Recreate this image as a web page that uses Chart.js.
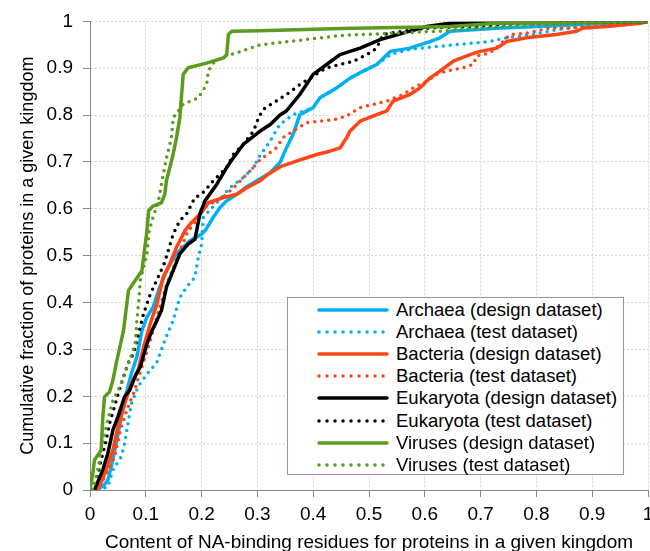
<!DOCTYPE html>
<html>
<head>
<meta charset="utf-8">
<script src="https://cdn.jsdelivr.net/npm/chart.js@4.4.1/dist/chart.umd.min.js"></script>
<style>
  html, body { margin: 0; padding: 0; background: #fff; }
  #wrap { position: relative; width: 650px; height: 551px; }
  #legend {
    position: absolute; left: 287px; top: 297px; width: 337px; height: 178px;
    box-sizing: border-box; border: 1px solid #9c8bc2; background: #fff;
    font-family: 'Liberation Sans', Arial, sans-serif; font-size: 18.5px; color: #000;
  }
  .row { position: absolute; left: 0; height: 22px; display: flex; align-items: center; }
  .row svg { margin-left: 28px; }
  .row span { margin-left: 6px; white-space: nowrap; }
</style>
</head>
<body>
<div id="wrap">
  <canvas id="myChart" width="650" height="551"></canvas>
  <div id="legend"></div>
</div>
<script>
const labels = [
  'Archaea (design dataset)',
  'Archaea (test dataset)',
  'Bacteria (design dataset)',
  'Bacteria (test dataset)',
  'Eukaryota (design dataset)',
  'Eukaryota (test dataset)',
  'Viruses (design dataset)',
  'Viruses (test dataset)',
];
const xTicks = [0, 0.1, 0.2, 0.3, 0.4, 0.5, 0.6, 0.7, 0.8, 0.9, 1];
const yTicks = [0, 0.1, 0.2, 0.3, 0.4, 0.5, 0.6, 0.7, 0.8, 0.9, 1];

// [content, cumulative fraction]
const archaeaDesign = [[0.012,0],[0.025,0.01],[0.032,0.021],[0.038,0.05],[0.047,0.099],[0.056,0.156],[0.065,0.206],[0.074,0.248],[0.084,0.284],[0.093,0.34],[0.102,0.369],[0.113,0.39],[0.125,0.433],[0.140,0.475],[0.155,0.504],[0.179,0.532],[0.200,0.546],[0.206,0.553],[0.221,0.582],[0.233,0.603],[0.245,0.617],[0.263,0.631],[0.278,0.645],[0.305,0.664],[0.323,0.677],[0.341,0.70],[0.352,0.73],[0.364,0.759],[0.376,0.801],[0.400,0.816],[0.412,0.837],[0.442,0.858],[0.466,0.879],[0.490,0.894],[0.514,0.908],[0.538,0.936],[0.573,0.943],[0.609,0.957],[0.627,0.965],[0.645,0.979],[0.735,0.986],[0.806,0.989],[0.9,0.995],[1,1]];
const archaeaTest = [[0.015,0],[0.032,0.007],[0.041,0.043],[0.056,0.071],[0.062,0.099],[0.068,0.142],[0.074,0.184],[0.086,0.22],[0.098,0.241],[0.107,0.255],[0.119,0.27],[0.134,0.319],[0.149,0.362],[0.161,0.411],[0.173,0.433],[0.188,0.454],[0.194,0.496],[0.200,0.525],[0.203,0.582],[0.227,0.613],[0.251,0.645],[0.275,0.667],[0.293,0.688],[0.302,0.709],[0.323,0.745],[0.340,0.78],[0.364,0.801],[0.400,0.816],[0.412,0.837],[0.442,0.858],[0.466,0.879],[0.490,0.894],[0.514,0.908],[0.540,0.93],[0.573,0.94],[0.609,0.945],[0.627,0.947],[0.717,0.957],[0.747,0.965],[0.794,0.972],[0.836,0.982],[0.878,0.989],[0.95,0.996],[1,1]];
const bacteriaDesign = [[0.012,0],[0.017,0.007],[0.029,0.043],[0.041,0.085],[0.050,0.135],[0.062,0.184],[0.074,0.227],[0.086,0.255],[0.096,0.305],[0.108,0.355],[0.120,0.397],[0.131,0.454],[0.143,0.482],[0.155,0.518],[0.170,0.553],[0.179,0.567],[0.200,0.592],[0.212,0.613],[0.239,0.624],[0.263,0.631],[0.281,0.645],[0.305,0.66],[0.317,0.672],[0.341,0.69],[0.370,0.702],[0.406,0.716],[0.430,0.723],[0.448,0.73],[0.460,0.752],[0.466,0.766],[0.484,0.787],[0.514,0.801],[0.532,0.809],[0.543,0.83],[0.573,0.844],[0.591,0.858],[0.609,0.879],[0.627,0.894],[0.651,0.915],[0.681,0.929],[0.699,0.936],[0.729,0.943],[0.747,0.957],[0.782,0.965],[0.836,0.972],[0.872,0.979],[0.884,0.986],[0.926,0.989],[0.986,0.996],[1,1]];
const bacteriaTest = [[0.010,0],[0.020,0.014],[0.032,0.04],[0.044,0.071],[0.056,0.135],[0.068,0.177],[0.080,0.213],[0.089,0.248],[0.095,0.27],[0.108,0.319],[0.125,0.39],[0.140,0.447],[0.152,0.482],[0.161,0.511],[0.176,0.553],[0.191,0.574],[0.203,0.603],[0.227,0.617],[0.245,0.631],[0.263,0.652],[0.287,0.681],[0.305,0.705],[0.334,0.73],[0.346,0.752],[0.364,0.766],[0.388,0.784],[0.436,0.79],[0.460,0.798],[0.484,0.816],[0.508,0.823],[0.532,0.83],[0.561,0.844],[0.579,0.858],[0.603,0.872],[0.621,0.887],[0.639,0.894],[0.669,0.901],[0.687,0.908],[0.693,0.926],[0.717,0.933],[0.735,0.951],[0.753,0.972],[0.782,0.975],[0.824,0.986],[0.866,0.986],[0.926,0.991],[0.974,0.994],[1,1]];
const eukaryotaDesign = [[0.008,0],[0.023,0.043],[0.032,0.078],[0.041,0.128],[0.050,0.156],[0.062,0.199],[0.071,0.213],[0.083,0.248],[0.090,0.262],[0.102,0.312],[0.111,0.34],[0.120,0.362],[0.128,0.383],[0.137,0.433],[0.149,0.468],[0.161,0.504],[0.176,0.525],[0.188,0.535],[0.197,0.589],[0.206,0.617],[0.227,0.652],[0.245,0.688],[0.257,0.709],[0.275,0.738],[0.305,0.766],[0.323,0.78],[0.341,0.801],[0.352,0.809],[0.376,0.844],[0.400,0.887],[0.424,0.908],[0.448,0.929],[0.484,0.943],[0.520,0.961],[0.561,0.975],[0.603,0.989],[0.645,0.996],[1,1]];
const eukaryotaTest = [[0.007,0],[0.011,0.007],[0.017,0.05],[0.029,0.106],[0.035,0.142],[0.047,0.191],[0.056,0.227],[0.062,0.248],[0.068,0.27],[0.078,0.291],[0.096,0.376],[0.108,0.418],[0.122,0.454],[0.134,0.486],[0.149,0.546],[0.161,0.575],[0.173,0.589],[0.188,0.624],[0.200,0.631],[0.221,0.66],[0.245,0.688],[0.257,0.716],[0.275,0.738],[0.293,0.766],[0.302,0.794],[0.310,0.812],[0.334,0.83],[0.352,0.844],[0.376,0.865],[0.394,0.879],[0.424,0.901],[0.448,0.908],[0.472,0.915],[0.496,0.929],[0.514,0.943],[0.525,0.972],[0.561,0.979],[0.609,0.986],[0.7,0.99],[0.75,0.995],[1,1]];
const virusesDesign = [[0,0],[0.005,0.035],[0.008,0.064],[0.020,0.085],[0.023,0.156],[0.026,0.199],[0.035,0.209],[0.041,0.234],[0.047,0.27],[0.060,0.34],[0.069,0.426],[0.081,0.447],[0.093,0.468],[0.096,0.496],[0.102,0.553],[0.105,0.596],[0.113,0.606],[0.128,0.613],[0.134,0.631],[0.137,0.66],[0.149,0.716],[0.155,0.752],[0.161,0.794],[0.167,0.887],[0.176,0.901],[0.209,0.911],[0.239,0.922],[0.245,0.929],[0.248,0.972],[0.254,0.979],[0.305,0.98],[0.45,0.985],[0.645,0.989],[0.73,0.996],[1,1]];
const virusesTest = [[0.005,0],[0.014,0.043],[0.023,0.106],[0.032,0.149],[0.041,0.191],[0.053,0.22],[0.062,0.248],[0.071,0.277],[0.081,0.312],[0.084,0.362],[0.088,0.411],[0.090,0.447],[0.102,0.504],[0.106,0.553],[0.113,0.582],[0.122,0.613],[0.128,0.652],[0.137,0.709],[0.146,0.752],[0.149,0.794],[0.167,0.823],[0.194,0.837],[0.209,0.865],[0.212,0.894],[0.221,0.911],[0.242,0.926],[0.263,0.933],[0.305,0.95],[0.45,0.97],[0.627,0.979],[0.75,0.99],[0.9,0.996],[1,1]];

const series = [archaeaDesign, archaeaTest, bacteriaDesign, bacteriaTest, eukaryotaDesign, eukaryotaTest, virusesDesign, virusesTest];
const colors = ['#00b0f0', '#00b0f0', '#ff4517', '#ff4517', '#000000', '#000000', '#5b9b1e', '#5b9b1e'];
const dotted = [false, true, false, true, false, true, false, true];

const FONT = "'Liberation Sans', Arial, sans-serif";

const datasets = series.map((pts, i) => ({
  label: labels[i],
  data: pts.map(p => ({x: p[0], y: p[1]})),
  showLine: true,
  borderColor: colors[i],
  backgroundColor: colors[i],
  borderWidth: 3.5,
  borderDash: dotted[i] ? [0, 7] : [],
  borderCapStyle: 'round',
  borderJoinStyle: 'round',
  pointRadius: 0,
  tension: 0,
  order: series.length - i,
}));

const config = {
  type: 'scatter',
  data: {datasets: datasets},
  options: {
    responsive: false,
    animation: false,
    layout: {padding: {top: 20, right: 2, left: 0, bottom: 0}},
    plugins: {legend: {display: false}, tooltip: {enabled: false}},
    scales: {
      x: {
        type: 'linear', min: 0, max: 1,
        afterBuildTicks: s => { s.ticks = xTicks.map(v => ({value: v})); },
        afterFit: s => { s.height = 61; s.paddingRight = 2; s.paddingLeft = 0; },
        ticks: {font: {family: FONT, size: 19}, color: '#000', padding: 6, maxRotation: 0,
          callback: v => String(v)},
        grid: {color: '#d6d6d6', tickColor: '#888', tickLength: 7, tickWidth: 1},
        border: {color: '#888', width: 1, dash: [2, 2]},
        title: {display: true, text: 'Content of NA-binding residues for proteins in a given kingdom',
          font: {family: FONT, size: 19}, color: '#000', padding: {top: 0, bottom: -3}},
      },
      y: {
        type: 'linear', min: 0, max: 1,
        afterBuildTicks: s => { s.ticks = yTicks.map(v => ({value: v})); },
        afterFit: s => { s.width = 90; },
        ticks: {font: {family: FONT, size: 19}, color: '#000', padding: 10,
          callback: v => String(v)},
        grid: {color: '#d6d6d6', tickColor: '#888', tickLength: 7, tickWidth: 1},
        border: {color: '#888', width: 1, dash: [2, 2]},
        title: {display: true, text: 'Cumulative fraction of proteins in a given kingdom',
          font: {family: FONT, size: 18}, color: '#000', padding: {top: 17, bottom: 0}},
      },
    },
  },
};

const myChart = new Chart(document.getElementById('myChart'), config);

// legend box drawn inside the plot area
const legend = document.getElementById('legend');
datasets.forEach((ds, i) => {
  const row = document.createElement('div');
  row.className = 'row';
  row.style.top = (1 + i * 22.1) + 'px';
  const dash = dotted[i] ? ' stroke-dasharray="0 8"' : '';
  row.innerHTML =
    '<svg width="74" height="8"><line x1="3" y1="4" x2="71" y2="4" stroke="' + colors[i] +
    '" stroke-width="3.5" stroke-linecap="round"' + dash + '/></svg><span>' + ds.label + '</span>';
  legend.appendChild(row);
});
</script>
</body>
</html>
